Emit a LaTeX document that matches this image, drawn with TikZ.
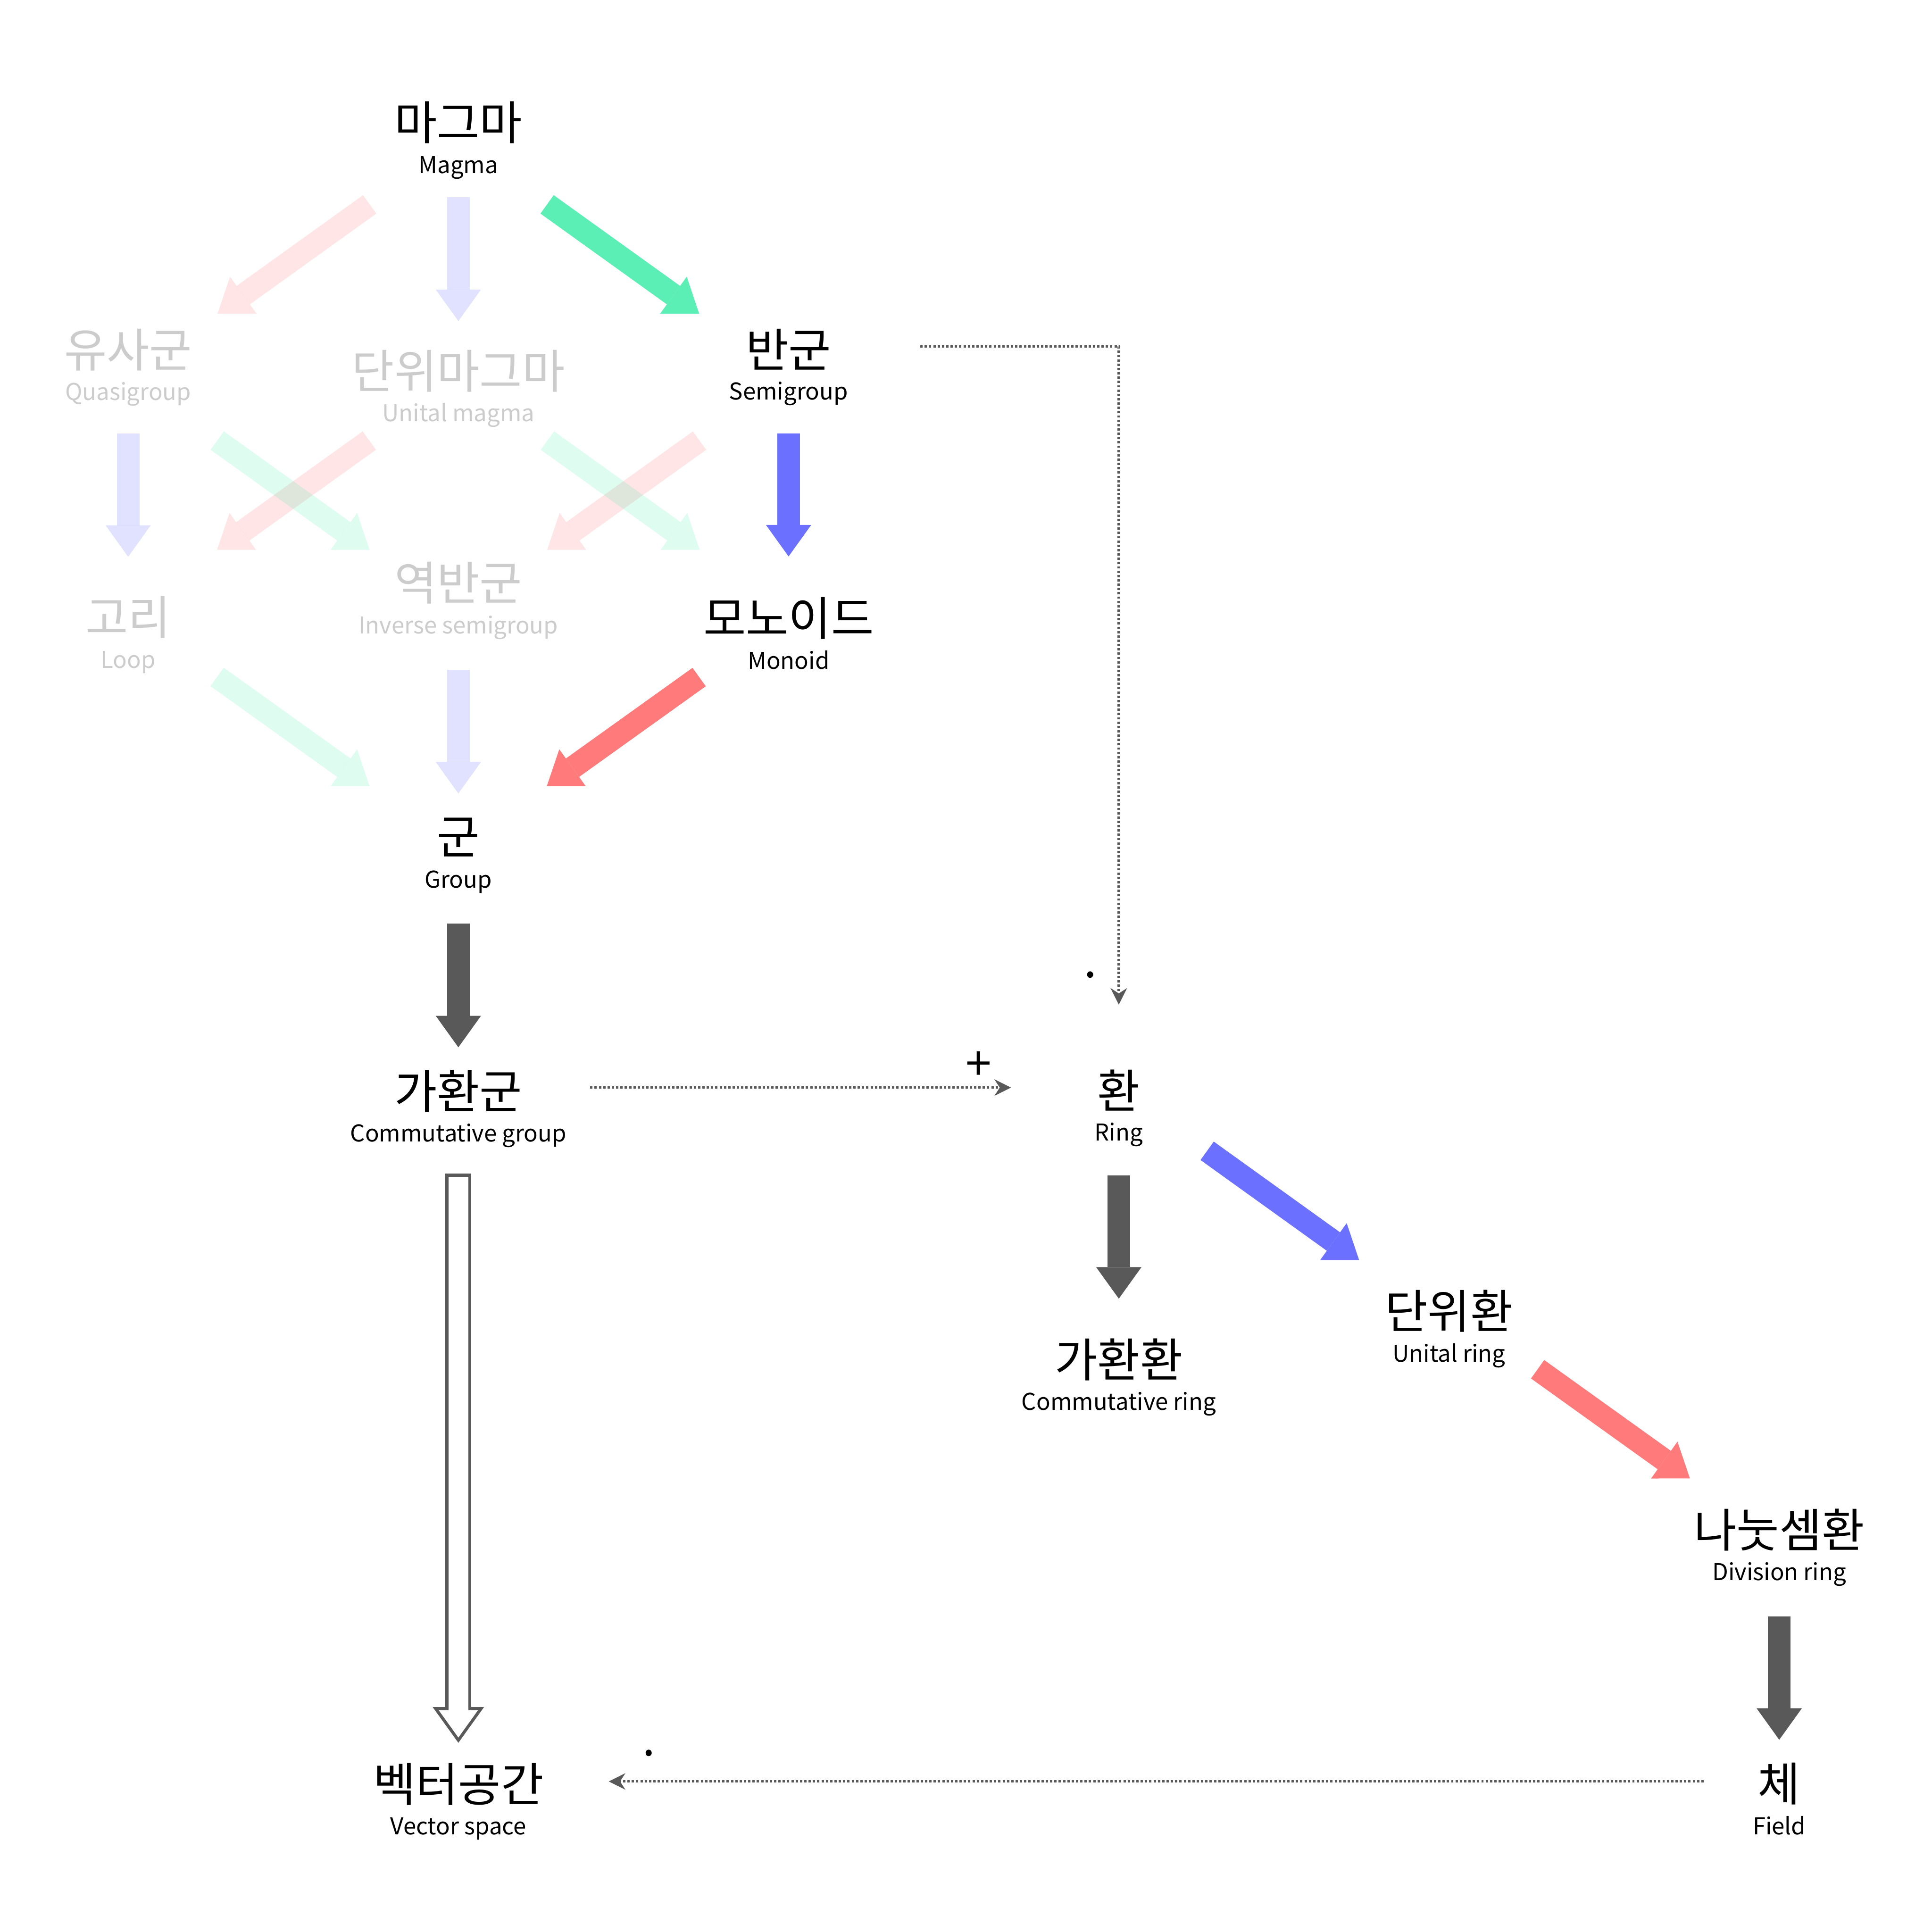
\documentclass[tikz,border=0pt]{standalone}
\usepackage{fontspec}
\setmainfont{Noto Sans CJK KR}
\usetikzlibrary{arrows.meta,calc}
\definecolor{ArrowGreen}{HTML}{5BEFB5}
\definecolor{ArrowBlue}{HTML}{6B70FF}
\definecolor{ArrowRed}{HTML}{FF7B7B}
\definecolor{ArrowGray}{HTML}{595959}
\definecolor{FaintText}{HTML}{CCCCCC}
\tikzset{
  every node/.style={inner sep=0pt},
  kor/.style={font=\fontsize{10.7}{12}\selectfont},
  eng/.style={font=\fontsize{5.35}{7}\selectfont, anchor=base},
  main/.style={text=black},
  faint/.style={text=FaintText},
  fat/.style={-{Triangle[width=3.68mm,length=2.56mm,line width=0pt]}, line width=1.84mm},
  faded/.style={fat, opacity=0.2},
  hollow/.style={-{Triangle[width=4.17mm,length=2.90mm,line width=0pt]}, draw=ArrowGray, line width=2.09mm,
    shorten <=-0.125mm, shorten >=-0.214mm,
    postaction={draw=white, line width=1.59mm, -{Triangle[width=3.19mm,length=2.22mm,line width=0pt]},
      shorten <=0.125mm, shorten >=0.214mm}},
  link/.style={-{Stealth[length=1.35mm,width=1.35mm,line width=0pt]}, draw=ArrowGray, line width=0.19mm,
    dash pattern=on 0.19mm off 0.16mm},
}
\begin{document}
\begin{tikzpicture}[x=1cm,y=1cm]
  \useasboundingbox (0,0) rectangle (15.68,15.68);
  % structures: korean name, english name 0.41 below
  \foreach \name/\x/\y/\ko/\en/\look in {
      magma/3.72/14.684/마그마/Magma/main,
      quasi/1.04/12.84/유사군/Quasigroup/faint,
      umagma/3.72/12.668/단위마그마/Unital magma/faint,
      semi/6.40/12.844/반군/Semigroup/main,
      loop/1.04/10.668/고리/Loop/faint,
      invsemi/3.72/10.948/역반군/Inverse semigroup/faint,
      monoid/6.40/10.661/모노이드/Monoid/main,
      group/3.72/8.883/군/Group/main,
      cgroup/3.72/6.825/가환군/Commutative group/main,
      ring/9.08/6.83/환/Ring/main,
      cring/9.08/4.647/가환환/Commutative ring/main,
      uring/11.76/5.038/단위환/Unital ring/main,
      dring/14.44/3.265/나눗셈환/Division ring/main,
      field/14.44/1.202/체/Field/main,
      vspace/3.72/1.20/벡터공간/Vector space/main}{
    \node[kor,\look] (\name) at (\x,\y) {\ko};
    \node[eng,\look] (\name-en) at (\x,\y-0.41) {\en};
  }
  % faded arrows
  \draw[faded, ArrowRed] ([shift={(-0.72,-0.663)}]magma.center) -- ([shift={(0.726,0.295)}]quasi.center);
  \draw[faded, ArrowRed] ([shift={(-0.723,-0.564)}]umagma.center) -- ([shift={(0.722,0.55)}]loop.center);
  \draw[faded, ArrowRed] ([shift={(-0.723,-0.74)}]semi.center) -- ([shift={(0.721,0.27)}]invsemi.center);
  \draw[faded, ArrowGreen] ([shift={(0.723,-0.736)}]quasi.center) -- ([shift={(-0.721,0.27)}]invsemi.center);
  \draw[faded, ArrowGreen] ([shift={(0.723,-0.564)}]umagma.center) -- ([shift={(-0.722,0.557)}]monoid.center);
  \draw[faded, ArrowGreen] ([shift={(0.722,-0.482)}]loop.center) -- ([shift={(-0.721,0.417)}]group.center);
  \draw[faded, ArrowBlue] ([yshift=-0.604cm]magma.center) -- ([yshift=0.406cm]umagma.center);
  \draw[faded, ArrowBlue] ([yshift=-0.677cm]quasi.center) -- ([yshift=0.493cm]loop.center);
  \draw[faded, ArrowBlue] ([yshift=-0.704cm]invsemi.center) -- ([yshift=0.357cm]group.center);
  % main chain
  \draw[fat, ArrowGreen] ([shift={(0.72,-0.663)}]magma.center) -- ([shift={(-0.726,0.291)}]semi.center);
  \draw[fat, ArrowBlue] ([yshift=-0.681cm]semi.center) -- ([yshift=0.503cm]monoid.center);
  \draw[fat, ArrowRed] ([shift={(-0.726,-0.476)}]monoid.center) -- ([shift={(0.718,0.417)}]group.center);
  \draw[fat, ArrowGray] ([yshift=-0.70cm]group.center) -- ([yshift=0.355cm]cgroup.center);
  \draw[fat, ArrowGray] ([yshift=-0.689cm]ring.center) -- ([yshift=0.493cm]cring.center);
  \draw[fat, ArrowBlue] ([shift={(0.717,-0.49)}]ring.center) -- ([shift={(-0.73,0.416)}]uring.center);
  \draw[fat, ArrowRed] ([shift={(0.719,-0.471)}]uring.center) -- ([shift={(-0.725,0.416)}]dring.center);
  \draw[fat, ArrowGray] ([yshift=-0.705cm]dring.center) -- ([yshift=0.358cm]field.center);
  \draw[hollow] ([yshift=-0.6825cm]cgroup.center) -- ([yshift=0.357cm]vspace.center);
  % operations
  \draw[link] ([shift={(1.069,0.024)}]semi.center) -| ([yshift=0.696cm]ring.center);
  \draw[link] ([shift={(1.07,0.028)}]cgroup.center) -- ([shift={(-0.875,0.023)}]ring.center);
  \draw[link] ([shift={(-0.614,0.02)}]field.center) -- ([shift={(1.221,0.022)}]vspace.center);
  \node[kor] (times) at (8.852,7.712) {·};
  \node[kor] (plus) at (7.942,7.03) {+};
  \node[kor] (scalar) at (5.267,1.395) {·};
\end{tikzpicture}
\end{document}
